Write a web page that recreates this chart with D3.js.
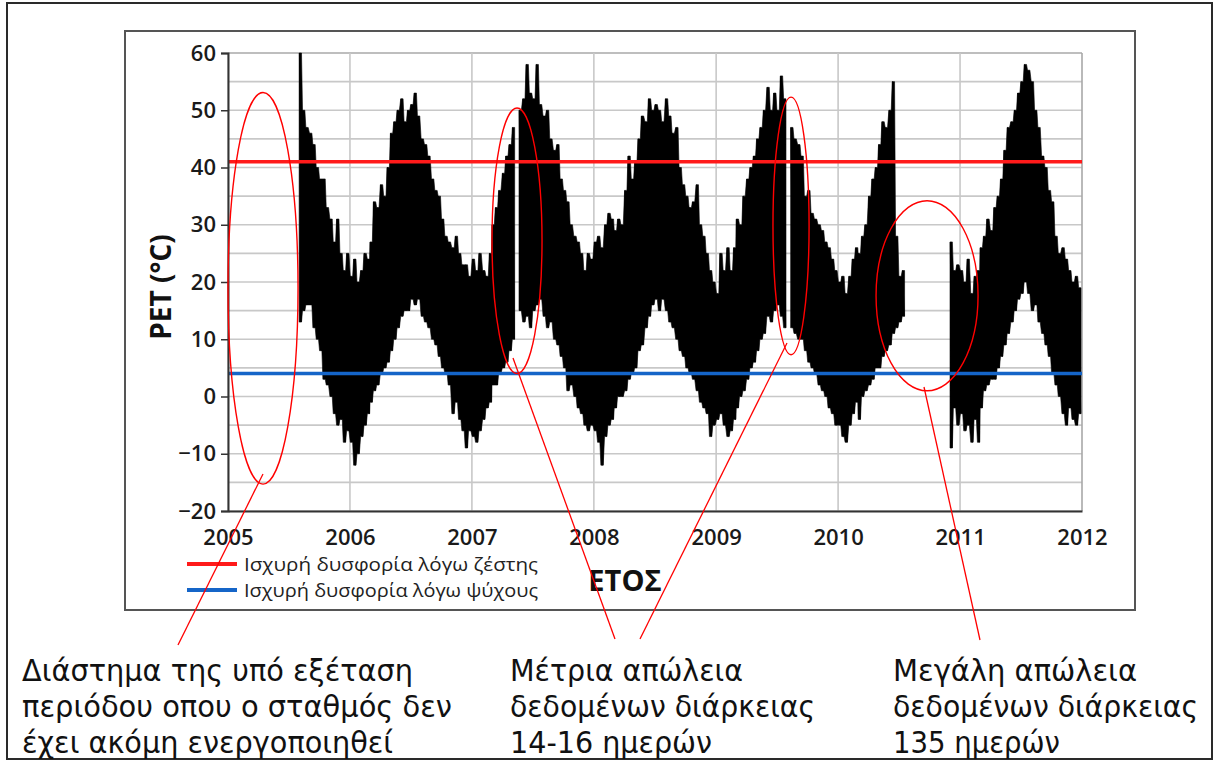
<!DOCTYPE html>
<html>
<head>
<meta charset="utf-8">
<script src="https://cdn.jsdelivr.net/npm/d3@7"></script>
<style>
body { margin: 0; background: #fff; }
svg text { font-family: "Open Sans", "DejaVu Sans", sans-serif; }
</style>
</head>
<body>
<div class="visContainer"></div>
<script>
// PET readings, summarised as max / min per 10-day period (dekads 1, 11, 21 of each month)
const years = [2005, 2006, 2007, 2008, 2009, 2010, 2011];
const xTickYears = [2005, 2006, 2007, 2008, 2009, 2010, 2011, 2012];
const yTicks = [-20, -10, 0, 10, 20, 30, 40, 50, 60];
const hotLimit = 41;
const coldLimit = 4;

const _ = null;
const hi2005 = [_,_,_,_,_,_,_,_,_,_,_,_,_,_,_,_,_,_,_,_,_, 60,50,47,46,44,40,38,38,33,31,27,31,25,22,25];
const lo2005 = [_,_,_,_,_,_,_,_,_,_,_,_,_,_,_,_,_,_,_,_,_, 13,15,16,16,12,10,8,3,2,0,-3,-5,-4,-8,-6];
const hi2006 = [21,24,20,22,25,24,27,34,33,37,35,40,46,48,50,52,48,50,51,53,49,45,44,42,38,36,35,31,28,27,26,28,25,23,23,21];
const lo2006 = [-8,-12,-10,-7,-5,-3,-1,1,2,4,5,6,8,10,12,14,15,15,17,16,17,14,13,12,10,9,7,5,4,2,-3,-1,-4,-6,-9,-6];
const hi2007 = [24,22,25,22,21,25,30,33,36,39,42,44,47,_,50,52,58,53,52,58,51,49,50,45,43,44,38,36,34,30,28,27,25,22,25,24];
const lo2007 = [-7,-8,-6,-4,-2,-1,2,2,4,5,6,8,10,_,15,13,14,12,15,16,17,14,12,13,10,9,7,5,1,2,0,-2,-3,-5,-6,-5];
const hi2008 = [27,28,26,30,32,31,29,31,30,36,42,38,41,45,49,48,52,50,51,50,48,52,49,46,47,40,37,35,33,34,37,30,28,25,22,20];
const lo2008 = [-6,-8,-12,-7,-5,-4,-2,0,0,1,3,4,5,8,9,12,14,16,17,15,17,15,13,12,10,8,7,5,4,3,1,-1,-2,-3,-7,-5];
const hi2009 = [18,25,22,26,22,26,31,30,35,38,40,42,45,47,50,54,50,53,50,56,52,_,47,45,44,42,35,36,32,31,30,29,27,26,24,22];
const lo2009 = [-4,-3,-5,-7,-6,-4,-2,0,1,3,5,6,8,10,11,14,13,15,16,14,12,_,12,11,10,10,8,6,5,4,2,1,0,-2,-3,-5];
const hi2010 = [20,21,18,21,24,26,25,28,30,35,38,40,44,48,47,50,55,28,21,22,_,_,_,_,_,_,_,_,_,_,_,_,_,27,22,23];
const lo2010 = [-5,-7,-8,-5,-3,-1,-4,0,1,2,3,5,5,7,8,9,11,12,13,14,_,_,_,_,_,_,_,_,_,_,_,_,_,-9,-2,-5];
const hi2011 = [22,20,24,18,21,22,26,28,31,29,33,35,38,43,47,48,50,53,55,58,57,55,50,47,42,40,36,34,28,25,26,24,22,20,21,19];
const lo2011 = [-3,-6,-5,-8,-4,-8,-2,1,2,3,3,5,7,9,11,13,15,17,18,20,18,15,16,13,11,9,7,4,2,0,-3,-5,-2,-4,-5,-3];

const legendLabels = ['Ισχυρή δυσφορία λόγω ζέστης', 'Ισχυρή δυσφορία λόγω ψύχους'];
const noteTexts = [
  ['Διάστημα της υπό εξέταση', 'περιόδου οπου ο σταθμός δεν', 'έχει ακόμη ενεργοποιηθεί'],
  ['Μέτρια απώλεια', 'δεδομένων διάρκειας', '14-16 ημερών'],
  ['Μεγάλη απώλεια', 'δεδομένων διάρκειας', '135 ημερών']
];
// ellipses: centre year, centre PET, half width (years), half height (°C)
const ellipseCx = [2005.287, 2007.369, 2009.615, 2010.730];
const ellipseCy = [18.9, 27.2, 29.8, 17.6];
const ellipseRx = [0.287, 0.205, 0.148, 0.418];
const ellipseRy = [34.2, 23.2, 22.5, 16.6];

const width = 1215;
const height = 762;
const plotLeft = 228, plotRight = 1082, plotTop = 53, plotBottom = 511;

const svg = d3.select('.visContainer')
  .append('svg')
  .attr('width', width)
  .attr('height', height);

// frames
svg.append('rect')
   .attr('x', 7).attr('y', 3).attr('width', 1205).attr('height', 756)
   .attr('fill', '#fff').attr('stroke', '#2a2a2a').attr('stroke-width', 2);
svg.append('rect')
   .attr('x', 125).attr('y', 31).attr('width', 1010).attr('height', 579)
   .attr('fill', '#fff').attr('stroke', '#555').attr('stroke-width', 2);

const yearDate = (y) => new Date(y, 0, 1);
const xScale = d3.scaleTime()
  .domain([yearDate(2005), yearDate(2012)])
  .range([plotLeft, plotRight]);
const yScale = d3.scaleLinear()
  .domain([-20, 60])
  .range([plotBottom, plotTop]);
const xFrac = (t) => xScale(new Date(yearDate(2005).getTime() + (t - 2005) * (yearDate(2012) - yearDate(2005)) / 7));

// grid
svg.append('g')
   .selectAll('line')
   .data(yScale.ticks(16))
   .enter()
   .append('line')
   .attr('x1', plotLeft).attr('x2', plotRight)
   .attr('y1', d => yScale(d)).attr('y2', d => yScale(d))
   .attr('stroke', d => d === 60 ? '#a8a8a8' : '#c8c8c8')
   .attr('stroke-width', 1.6);
svg.append('g')
   .selectAll('line')
   .data(xTickYears)
   .enter()
   .append('line')
   .attr('x1', d => xScale(yearDate(d))).attr('x2', d => xScale(yearDate(d)))
   .attr('y1', plotTop).attr('y2', plotBottom)
   .attr('stroke', d => d === 2012 ? '#a8a8a8' : '#c8c8c8')
   .attr('stroke-width', 1.6);

// PET series: filled band between each period's max and min, plus a zig-zag trace
const hiByYear = [hi2005, hi2006, hi2007, hi2008, hi2009, hi2010, hi2011];
const loByYear = [lo2005, lo2006, lo2007, lo2008, lo2009, lo2010, lo2011];
const periods = [];
const trace = [];
years.forEach((yr, yi) => {
  hiByYear[yi].forEach((h, k) => {
    const start = new Date(yr, Math.floor(k / 3), [1, 11, 21][k % 3]);
    const l = loByYear[yi][k];
    periods.push({ date: d3.timeDay.offset(start, 1), hi: h, lo: l });
    periods.push({ date: d3.timeDay.offset(start, 8), hi: h, lo: l });
    trace.push({ date: d3.timeDay.offset(start, 2), v: h });
    trace.push({ date: d3.timeDay.offset(start, 7), v: l });
  });
});
const band = d3.area()
  .defined(d => d.hi != null)
  .x(d => xScale(d.date))
  .y0(d => yScale(d.lo))
  .y1(d => yScale(d.hi));
svg.append('path')
   .datum(periods)
   .attr('d', band)
   .attr('fill', '#000')
   .attr('stroke', '#000')
   .attr('stroke-width', 0.6);
const petLine = d3.line()
  .defined(d => d.v != null)
  .x(d => xScale(d.date))
  .y(d => yScale(d.v));
svg.append('path')
   .datum(trace)
   .attr('d', petLine)
   .attr('fill', 'none')
   .attr('stroke', '#000')
   .attr('stroke-width', 1.1);

// thresholds
svg.append('line')
   .attr('x1', plotLeft).attr('x2', plotRight)
   .attr('y1', yScale(hotLimit)).attr('y2', yScale(hotLimit))
   .attr('stroke', '#ff1a1a').attr('stroke-width', 3.5);
svg.append('line')
   .attr('x1', plotLeft).attr('x2', plotRight)
   .attr('y1', yScale(coldLimit)).attr('y2', yScale(coldLimit))
   .attr('stroke', '#1565c8').attr('stroke-width', 3.5);

// axes
const yAxis = d3.axisLeft(yScale).tickValues(yTicks).tickSize(7).tickPadding(5);
svg.append('g')
   .attr('id', 'y-axis')
   .attr('transform', 'translate(' + plotLeft + ', 0)')
   .call(yAxis)
   .call(g => g.select('.domain').attr('stroke', '#333').attr('stroke-width', 2))
   .call(g => g.selectAll('.tick line').attr('stroke', '#333').attr('stroke-width', 1.5))
   .call(g => g.selectAll('.tick text')
               .attr('font-size', 22).attr('font-weight', 600).attr('fill', '#1a1a1a')
               .style('font-family', '"Open Sans", sans-serif'));

const xAxis = d3.axisBottom(xScale)
  .tickValues(xTickYears.map(yearDate))
  .tickFormat(d3.timeFormat('%Y'))
  .tickSize(0);
svg.append('g')
   .attr('id', 'x-axis')
   .attr('transform', 'translate(0, ' + plotBottom + ')')
   .call(xAxis)
   .call(g => g.select('.domain').attr('stroke', '#333').attr('stroke-width', 2))
   .call(g => g.selectAll('.tick text')
               .attr('y', 34).attr('dy', 0)
               .attr('font-size', 22).attr('font-weight', 600).attr('fill', '#1a1a1a')
               .style('font-family', '"Open Sans", sans-serif'));

svg.append('text')
   .attr('transform', 'translate(171, 287) rotate(-90)')
   .attr('text-anchor', 'middle')
   .attr('font-size', 28).attr('font-weight', 700).attr('fill', '#111')
   .text('PET (°C)');
svg.append('text')
   .attr('x', 625).attr('y', 591)
   .attr('text-anchor', 'middle')
   .attr('font-size', 29).attr('font-weight', 700).attr('fill', '#111')
   .text('ΕΤΟΣ');

// legend
const legendColors = ['#ff1a1a', '#1565c8'];
legendLabels.forEach((lab, i) => {
  const ly = 564 + i * 26;
  svg.append('line')
     .attr('x1', 187).attr('x2', 237).attr('y1', ly).attr('y2', ly)
     .attr('stroke', legendColors[i]).attr('stroke-width', 4);
  svg.append('text')
     .attr('x', 244).attr('y', ly + 7)
     .attr('font-size', 18).attr('fill', '#222')
     .attr('textLength', 294).attr('lengthAdjust', 'spacingAndGlyphs')
     .text(lab);
});

// annotations
ellipseCx.forEach((cx, i) => {
  svg.append('ellipse')
     .attr('cx', xFrac(cx))
     .attr('cy', yScale(ellipseCy[i]))
     .attr('rx', xFrac(cx + ellipseRx[i]) - xFrac(cx))
     .attr('ry', yScale(0) - yScale(ellipseRy[i]))
     .attr('fill', 'none').attr('stroke', '#ff0000').attr('stroke-width', 1.4);
});
const leaders = [
  [[263, 474], [178, 645]],
  [[513, 358], [615, 639]],
  [[787, 343], [640, 639]],
  [[924, 387], [980, 640]]
];
leaders.forEach(([a, b]) => {
  svg.append('line')
     .attr('x1', a[0]).attr('y1', a[1]).attr('x2', b[0]).attr('y2', b[1])
     .attr('stroke', '#ff0000').attr('stroke-width', 1.3);
});

const noteX = [22, 510, 893];
const noteWidths = [[391, 430, 371], [233, 305, 202], [244, 305, 167]];
noteTexts.forEach((lines, i) => {
  lines.forEach((line, j) => {
    svg.append('text')
       .attr('x', noteX[i]).attr('y', 681 + j * 36)
       .attr('font-size', 30).attr('fill', '#111')
       .attr('textLength', noteWidths[i][j]).attr('lengthAdjust', 'spacingAndGlyphs')
       .style('font-family', '"Liberation Sans Narrow", "DejaVu Sans Condensed", "Liberation Sans", sans-serif')
       .text(line);
  });
});
</script>
</body>
</html>
